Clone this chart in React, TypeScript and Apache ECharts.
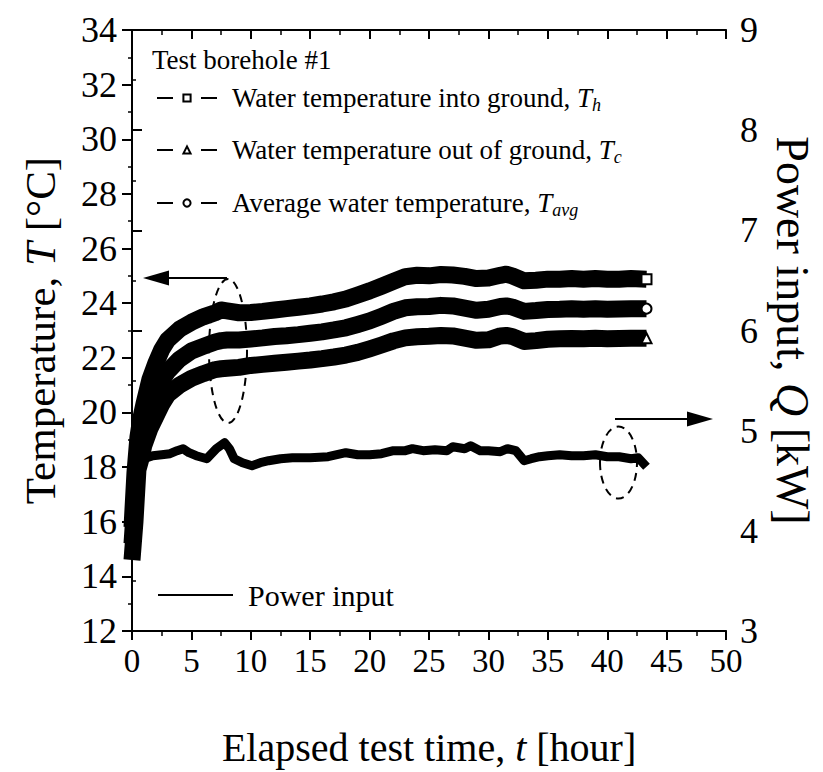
import React, { useEffect, useRef } from "react";
import * as echarts from "echarts";

// ---- data ----
const hours = [0, 0.25, 0.5, 0.75, 1, 1.5, 2, 2.5, 3, 4, 5, 6, 7, 7.5, 8, 9, 10, 11, 12, 13, 14, 15, 16, 17, 18, 19, 20, 21, 22, 23, 24, 25, 26, 27, 28, 29, 30, 31, 31.5, 32, 33, 34, 35, 36, 37, 38, 39, 40, 41, 42, 43.3];
const waterIn = [15.8, 17.8, 19.1, 19.8, 20.3, 21.2, 21.8, 22.3, 22.65, 23.05, 23.3, 23.5, 23.65, 23.75, 23.72, 23.65, 23.66, 23.7, 23.75, 23.8, 23.85, 23.9, 23.97, 24.05, 24.15, 24.3, 24.45, 24.62, 24.8, 24.97, 25.02, 25.0, 25.05, 25.03, 24.98, 24.9, 24.92, 25.02, 25.06, 25.0, 24.82, 24.84, 24.88, 24.88, 24.9, 24.88, 24.9, 24.88, 24.88, 24.9, 24.88];
const waterAvg = [15.2, 16.8, 18.4, 19.0, 19.4, 20.1, 20.7, 21.15, 21.5, 21.95, 22.25, 22.42, 22.58, 22.63, 22.65, 22.65, 22.69, 22.73, 22.78, 22.81, 22.85, 22.9, 22.95, 23.02, 23.1, 23.22, 23.35, 23.52, 23.7, 23.83, 23.87, 23.88, 23.92, 23.9, 23.82, 23.74, 23.78, 23.88, 23.9, 23.86, 23.7, 23.73, 23.77, 23.78, 23.8, 23.78, 23.8, 23.78, 23.79, 23.8, 23.8];
const waterOut = [14.6, 16.0, 17.9, 18.3, 18.8, 19.4, 19.85, 20.3, 20.65, 21.0, 21.25, 21.42, 21.57, 21.6, 21.62, 21.65, 21.72, 21.76, 21.8, 21.84, 21.88, 21.92, 21.97, 22.03, 22.1, 22.2, 22.33, 22.47, 22.62, 22.73, 22.77, 22.79, 22.82, 22.8, 22.72, 22.64, 22.66, 22.8, 22.82, 22.78, 22.6, 22.63, 22.68, 22.7, 22.71, 22.7, 22.72, 22.7, 22.71, 22.72, 22.72];
const powerHours = [0.3, 1, 1.75, 2.5, 3.2, 3.8, 4.3, 4.8, 5.4, 6.3, 7.1, 7.8, 8.2, 8.6, 9.3, 10.1, 10.8, 11.5, 12.5, 13.5, 15, 16.5, 18, 19, 20, 21, 22, 23, 23.6, 24.5, 25.5, 26.5, 27, 28, 28.5, 29.3, 30, 31, 31.6, 32.3, 33, 33.6, 34.3, 35, 36, 37, 38, 39, 40, 41, 42, 42.6, 43.3];
const powerKW = [4.6, 4.72, 4.75, 4.76, 4.77, 4.8, 4.82, 4.78, 4.75, 4.72, 4.82, 4.88, 4.82, 4.72, 4.68, 4.65, 4.68, 4.7, 4.72, 4.73, 4.73, 4.74, 4.78, 4.76, 4.76, 4.77, 4.8, 4.8, 4.82, 4.8, 4.81, 4.8, 4.84, 4.82, 4.85, 4.8, 4.8, 4.79, 4.82, 4.8, 4.7, 4.72, 4.74, 4.75, 4.76, 4.75, 4.75, 4.76, 4.74, 4.74, 4.72, 4.73, 4.64];

const xRange = [0, 50];
const tempRange = [12, 34];
const powerRange = [3, 9];

const seriesNames = ["Th", "Tc", "Tavg", "Power input"];
const legendLabels: Record<string, string> = {
  Th: "{a|Water temperature into ground, }{i|T}{s|h}",
  Tc: "{a|Water temperature out of ground, }{i|T}{s|c}",
  Tavg: "{a|Average water temperature, }{i|T}{s|avg}",
  "Power input": "{p|Power input}",
};
const legendTitle = "Test borehole #1";

const FONT = "'Liberation Serif', 'Times New Roman', serif";

const pairs = (xs: number[], ys: number[]) => xs.map((x, i) => [x, ys[i]]);

export default function App() {
  const ref = useRef<HTMLDivElement>(null);

  useEffect(() => {
    const chart = echarts.init(ref.current!, null, { renderer: "svg" });
    const last = hours.length - 1;

    const tempSeries = (name: string, values: number[], symbol: string) => ({
      type: "line",
      name,
      data: pairs(hours, values),
      xAxisIndex: 0,
      yAxisIndex: 0,
      symbol,
      showSymbol: true,
      symbolSize: (_v: any, p: any) => (p.dataIndex === last ? 10 : 0),
      lineStyle: { color: "#000", width: 17, join: "round" },
      itemStyle: { color: "#000" },
      emphasis: { disabled: true },
      z: 3,
    });

    const richLegend = {
      a: { fontFamily: FONT, fontSize: 27, color: "#000", lineHeight: 34 },
      i: { fontFamily: FONT, fontSize: 27, color: "#000", fontStyle: "italic", lineHeight: 34 },
      s: { fontFamily: FONT, fontSize: 18, color: "#000", fontStyle: "italic", lineHeight: 34, padding: [14, 0, 0, 0] },
      p: { fontFamily: FONT, fontSize: 30, color: "#000", lineHeight: 34 },
    };

    const tempLegend = (name: string, top: number) => ({
      show: true,
      orient: "vertical",
      left: 151,
      top,
      data: [name],
      selectedMode: false,
      itemWidth: 60,
      itemHeight: 9,
      formatter: (n: string) => legendLabels[n],
      textStyle: { rich: richLegend, padding: [0, 0, 0, 10] },
      lineStyle: { width: 2, color: "#000", type: [16, 28] },
      itemStyle: { color: "#000" },
    });

    const axisFont = { fontFamily: FONT, color: "#000" };
    const nameRich = (size: number) => ({
      a: { fontFamily: FONT, fontSize: size, color: "#000" },
      i: { fontFamily: FONT, fontSize: size, color: "#000", fontStyle: "italic" },
    });
    const lineBlack = { color: "#000", width: 2 };

    chart.setOption({
      animation: false,
      backgroundColor: "#fff",
      grid: { left: 132, right: 95, top: 30, bottom: 139, containLabel: false },
      xAxis: [
        {
          type: "value",
          position: "bottom",
          min: xRange[0],
          max: xRange[1],
          interval: 5,
          axisLine: { show: true, lineStyle: lineBlack },
          axisTick: { show: true, inside: false, length: 9, lineStyle: lineBlack },
          minorTick: { show: true, splitNumber: 2, length: 5, lineStyle: { color: "#000", width: 1.5 } },
          splitLine: { show: false },
          axisLabel: { ...axisFont, fontSize: 33, margin: 13 },
          name: "{a|Elapsed test time, }{i|t}{a| [hour]}",
          nameLocation: "middle",
          nameGap: 96,
          nameTextStyle: { rich: nameRich(40) },
        },
        {
          type: "value",
          position: "top",
          min: xRange[0],
          max: xRange[1],
          interval: 5,
          axisLine: { show: true, lineStyle: lineBlack },
          axisTick: { show: true, inside: true, length: 9, lineStyle: lineBlack },
          minorTick: { show: true, splitNumber: 2, length: 5, lineStyle: { color: "#000", width: 1.5 } },
          splitLine: { show: false },
          axisLabel: { show: false },
        },
      ],
      yAxis: [
        {
          type: "value",
          position: "left",
          min: tempRange[0],
          max: tempRange[1],
          interval: 2,
          axisLine: { show: true, lineStyle: lineBlack },
          axisTick: { show: true, inside: false, length: 10, lineStyle: lineBlack },
          minorTick: { show: true, splitNumber: 2, length: 4, lineStyle: { color: "#000", width: 1.5 } },
          splitLine: { show: false },
          axisLabel: { ...axisFont, fontSize: 36, margin: 15 },
          name: "{a|Temperature, }{i|T}{a| [°C]}",
          nameLocation: "middle",
          nameGap: 70,
          nameRotate: 90,
          nameTextStyle: { rich: nameRich(43) },
        },
        {
          type: "value",
          position: "right",
          min: powerRange[0],
          max: powerRange[1],
          interval: 1,
          axisLine: { show: true, lineStyle: lineBlack },
          axisTick: { show: true, inside: false, length: 10, lineStyle: lineBlack },
          minorTick: { show: true, splitNumber: 2, length: 4, lineStyle: { color: "#000", width: 1.5 } },
          splitLine: { show: false },
          axisLabel: { ...axisFont, fontSize: 36, margin: 14 },
          name: "{a|Power input, }{i|Q}{a| [kW]}",
          nameLocation: "middle",
          nameGap: 37,
          nameRotate: -90,
          nameTextStyle: { rich: nameRich(46) },
        },
      ],
      legend: [
        tempLegend(seriesNames[0], 77),
        tempLegend(seriesNames[1], 129),
        tempLegend(seriesNames[2], 182),
        {
          show: true,
          left: 153,
          top: 575,
          data: [seriesNames[3]],
          selectedMode: false,
          icon: "rect",
          itemWidth: 75,
          itemHeight: 2,
          formatter: (n: string) => legendLabels[n],
          textStyle: { rich: richLegend, padding: [0, 0, 0, 10] },
          itemStyle: { color: "#000" },
        },
      ],
      series: [
        {
          type: "line",
          name: seriesNames[3],
          data: pairs(powerHours, powerKW),
          xAxisIndex: 0,
          yAxisIndex: 1,
          symbol: "none",
          lineStyle: { color: "#000", width: 9, join: "round" },
          itemStyle: { color: "#000" },
          emphasis: { disabled: true },
          z: 2,
        },
        tempSeries(seriesNames[0], waterIn, "emptyRect"),
        tempSeries(seriesNames[1], waterOut, "emptyTriangle"),
        tempSeries(seriesNames[2], waterAvg, "emptyCircle"),
      ],
      graphic: [
        {
          type: "text",
          left: 152,
          top: 46,
          style: { text: legendTitle, font: `27px ${FONT}`, fill: "#000" },
        },
        { type: "line", shape: { x1: 227, y1: 278, x2: 165, y2: 278 }, style: { stroke: "#000", lineWidth: 2 }, z: 10 },
        { type: "polygon", shape: { points: [[143, 278], [169, 270.5], [169, 285.5]] }, style: { fill: "#000" }, z: 10 },
        { type: "ellipse", shape: { cx: 228, cy: 351, rx: 19, ry: 72 }, style: { fill: "none", stroke: "#000", lineWidth: 2, lineDash: [8, 6] }, z: 10 },
        { type: "line", shape: { x1: 615, y1: 419, x2: 690, y2: 419 }, style: { stroke: "#000", lineWidth: 2 }, z: 10 },
        { type: "polygon", shape: { points: [[713, 419], [687, 411.5], [687, 426.5]] }, style: { fill: "#000" }, z: 10 },
        { type: "ellipse", shape: { cx: 618.5, cy: 462.5, rx: 18.5, ry: 36 }, style: { fill: "none", stroke: "#000", lineWidth: 2, lineDash: [8, 6] }, z: 10 },
      ],
    });

    return () => chart.dispose();
  }, []);

  return (
    <div
      ref={ref}
      style={{ position: "fixed", left: 0, top: 0, width: 823, height: 772, background: "#fff" }}
    />
  );
}
